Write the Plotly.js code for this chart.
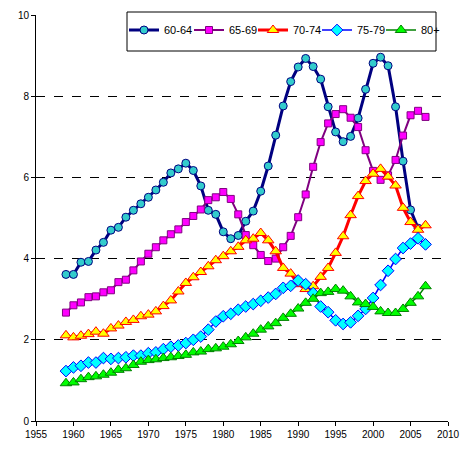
<!DOCTYPE html>
<html>
<head>
<meta charset="utf-8">
<script src="https://cdn.plot.ly/plotly-3.0.1.min.js"></script>
<style>
html,body{margin:0;padding:0;background:#fff;}
#chart{width:468px;height:462px;}
</style>
</head>
<body>
<div id="chart"></div>
<script>
const years = [];
for (let y = 1959; y <= 2007; y++) years.push(y);

const seriesNames = ["60-64", "65-69", "70-74", "75-79", "80+"];

const s6064 = [3.61,3.61,3.91,3.93,4.21,4.40,4.70,4.77,5.02,5.19,5.35,5.51,5.69,5.88,6.11,6.21,6.35,6.17,5.79,5.19,5.09,4.66,4.49,4.57,4.92,5.17,5.66,6.28,7.04,7.76,8.36,8.72,8.93,8.73,8.42,7.74,7.12,6.88,7.01,7.46,8.17,8.81,8.96,8.75,7.74,6.40,5.20,4.75,null];
const s6569 = [2.67,2.85,2.92,3.05,3.07,3.17,3.22,3.42,3.48,3.71,3.93,4.12,4.28,4.45,4.60,4.72,4.90,5.05,5.21,5.44,5.51,5.64,5.47,5.09,4.58,4.33,4.09,3.94,4.00,4.28,4.56,5.02,5.58,6.26,6.87,7.33,7.56,7.68,7.47,7.24,6.67,6.16,5.94,6.05,6.43,7.03,7.53,7.64,7.49];
const s7074 = [2.11,2.06,2.10,2.14,2.20,2.15,2.28,2.35,2.44,2.49,2.58,2.62,2.70,2.83,2.97,3.19,3.40,3.54,3.67,3.81,3.96,4.06,4.18,4.29,4.45,4.49,4.63,4.45,4.18,3.77,3.63,3.37,3.25,3.32,3.55,3.77,4.14,4.55,5.07,5.54,5.91,6.09,6.21,6.02,5.80,5.25,4.90,4.71,4.82];
const s7579 = [1.23,1.32,1.36,1.44,1.44,1.55,1.53,1.55,1.57,1.61,1.61,1.67,1.69,1.77,1.83,1.86,1.92,2.00,2.08,2.25,2.45,2.58,2.64,2.74,2.82,2.88,2.96,3.04,3.13,3.28,3.33,3.46,3.37,3.15,2.82,2.68,2.48,2.39,2.43,2.59,2.76,3.03,3.35,3.70,3.99,4.26,4.37,4.50,4.35];
const s80 = [0.93,0.95,1.03,1.08,1.10,1.14,1.19,1.26,1.30,1.38,1.46,1.50,1.52,1.55,1.57,1.60,1.63,1.69,1.71,1.77,1.79,1.83,1.89,1.97,2.06,2.15,2.25,2.33,2.41,2.54,2.64,2.77,2.91,3.01,3.15,3.18,3.25,3.21,3.07,2.92,2.88,2.81,2.70,2.66,2.66,2.76,2.91,3.07,3.32];

const seriesValues = [s6064, s6569, s7074, s7579, s80];
const lineColors = ["#000080", "#800080", "#FF0000", "#0000FF", "#008000"];
const lineWidths = [3, 2, 3, 1.5, 1.5];
const markerFills = ["#33CCCC", "#FF00FF", "#FFFF00", "#00FFFF", "#00FF00"];
const markerSymbols = ["circle", "square", "triangle-up", "diamond", "triangle-up"];
const markerSizes = [8, 7, 10, 9, 10];

const W = 468, H = 462;
const mL = 36, mR = 20, mT = 15, mB = 41;
const pw = W - mL - mR, ph = H - mT - mB;
const px = v => (v - mL) / pw;
const py = v => (H - mB - v) / ph;

const legendIds = ["legend", "legend2", "legend3", "legend4", "legend5"];
const legendLineStarts = [129, 194, 258, 322, 386];

const traces = seriesNames.map((name, i) => ({
  type: "scatter",
  mode: "lines+markers",
  name: name,
  legend: legendIds[i],
  x: years,
  y: seriesValues[i],
  connectgaps: false,
  line: {color: lineColors[i], width: lineWidths[i]},
  marker: {
    symbol: markerSymbols[i],
    size: markerSizes[i],
    color: markerFills[i],
    line: {color: lineColors[i], width: 1}
  }
}));

const layout = {
  width: W, height: H,
  margin: {l: mL, r: mR, t: mT, b: mB, pad: 0},
  paper_bgcolor: "#ffffff",
  plot_bgcolor: "#ffffff",
  font: {family: "Liberation Sans, Arial, sans-serif", size: 10, color: "#000"},
  showlegend: true,
  xaxis: {
    range: [1955, 2010],
    dtick: 5, tick0: 1955,
    showgrid: false, zeroline: false,
    showline: true, linecolor: "#000", linewidth: 1,
    ticks: "outside", ticklen: 4, tickcolor: "#000",
    tickfont: {size: 10}
  },
  yaxis: {
    range: [0, 10],
    dtick: 2, tick0: 0,
    showgrid: true, gridcolor: "#000", gridwidth: 1, griddash: "dash",
    zeroline: false,
    showline: true, linecolor: "#000", linewidth: 1,
    ticks: "outside", ticklen: 4, tickcolor: "#000",
    tickfont: {size: 10}
  },
  shapes: [{
    type: "rect", xref: "paper", yref: "paper", layer: "above",
    x0: px(127), x1: px(436), y0: py(51), y1: py(12),
    line: {color: "#000", width: 1}, fillcolor: "#ffffff"
  }]
};

legendIds.forEach((id, i) => {
  layout[id] = {
    orientation: "h",
    x: px(legendLineStarts[i] - 5), xanchor: "left",
    y: py(30), yanchor: "middle",
    bgcolor: "rgba(0,0,0,0)",
    borderwidth: 0,
    itemwidth: 30,
    font: {family: "Liberation Sans, Arial, sans-serif", size: 11, color: "#000"}
  };
});

Plotly.newPlot("chart", traces, layout, {displayModeBar: false, staticPlot: true});
</script>
</body>
</html>
